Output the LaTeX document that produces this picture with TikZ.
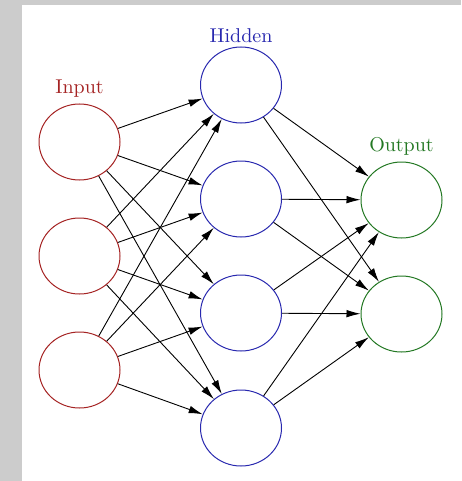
\documentclass[tikz,border=0pt]{standalone}
\usepackage{tikz}
\usetikzlibrary{arrows.meta,shapes.geometric}
\definecolor{inred}{RGB}{165,35,35}
\definecolor{hidblue}{RGB}{40,40,175}
\definecolor{outgreen}{RGB}{35,120,35}
\begin{document}
\begin{tikzpicture}[x=0.5pt,y=-0.5pt,
   unit/.style={ellipse,draw,line width=0.5pt,minimum width=40.5pt,minimum height=38pt,inner sep=0pt},
   inunit/.style={unit,draw=inred},
   hidunit/.style={unit,draw=hidblue},
   outunit/.style={unit,draw=outgreen},
   conn/.style={-{Latex[length=7pt,width=3.8pt]},line width=0.45pt,
      preaction={draw=black!25,line width=1.5pt,-{Latex[length=7pt,width=3.8pt]}}}]
\useasboundingbox[fill=black!20] (0,0) rectangle (461,481);
\fill[white] (22,5) rectangle (461,481);
%
       \node [inunit] at (79.5,142) (in1) {};
       \node [inunit] at (79.5,256) (in2) {};
       \node [inunit] at (79.5,370) (in3) {};
          \node [hidunit] at (241,85) (hid1) {};
          \node [hidunit] at (241,199) (hid2) {};
          \node [hidunit] at (241,313) (hid3) {};
          \node [hidunit] at (241,428) (hid4) {};
             \node [outunit] at (401.5,200) (out1) {};
             \node [outunit] at (401.5,314) (out2) {};
%
       \node [inred] at (79.5,89) (in label) {Input};
          \node [hidblue] at (241,36) (hid label) {Hidden};
             \node [outgreen] at (401.5,146) (out label) {Output};
%
%
\path[conn] (in1) edge (hid1);
\path[conn] (in1) edge (hid2);
\path[conn] (in1) edge (hid3);
\path[conn] (in1) edge (hid4);
\path[conn] (in2) edge (hid1);
\path[conn] (in2) edge (hid2);
\path[conn] (in2) edge (hid3);
\path[conn] (in2) edge (hid4);
\path[conn] (in3) edge (hid1);
\path[conn] (in3) edge (hid2);
\path[conn] (in3) edge (hid3);
\path[conn] (in3) edge (hid4);
\path[conn] (hid1) edge (out1);
\path[conn] (hid1) edge (out2);
\path[conn] (hid2) edge (out1);
\path[conn] (hid2) edge (out2);
\path[conn] (hid3) edge (out1);
\path[conn] (hid3) edge (out2);
\path[conn] (hid4) edge (out1);
\path[conn] (hid4) edge (out2);

\end{tikzpicture}
\end{document}
